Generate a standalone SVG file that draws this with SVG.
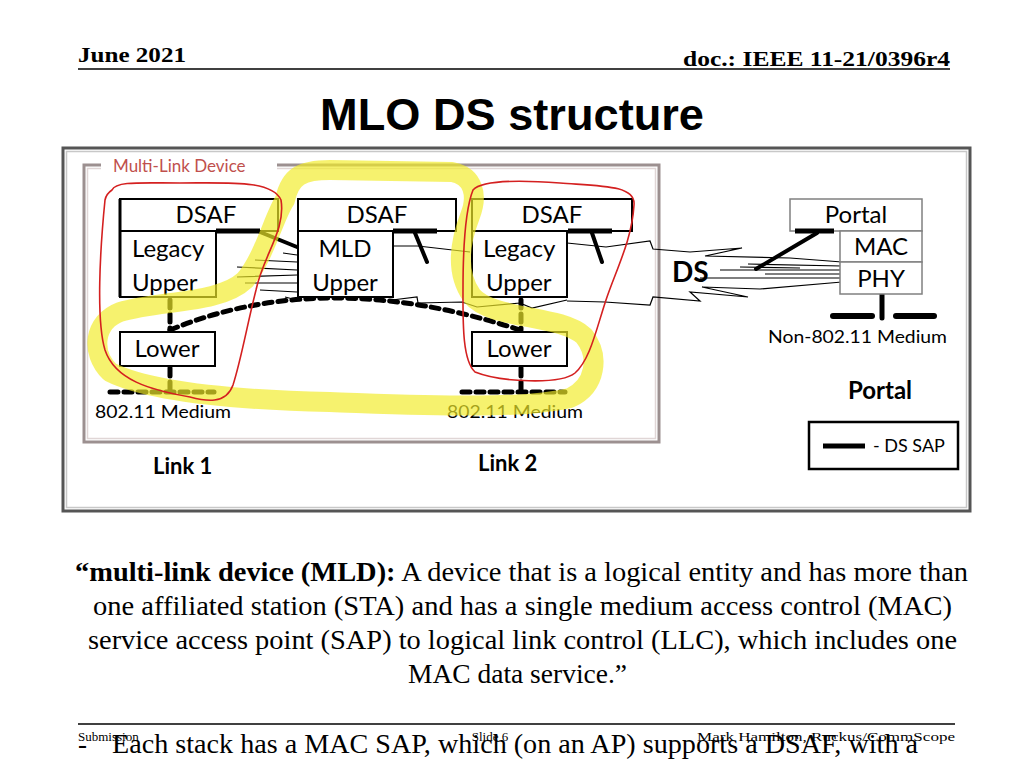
<svg xmlns="http://www.w3.org/2000/svg" width="1024" height="768" viewBox="0 0 1024 768">
<style>
.hdr{font-family:"Liberation Serif","Times New Roman",serif;font-weight:bold;font-size:22px;fill:#000}
.title{font-family:"Liberation Sans",Arial,sans-serif;font-weight:bold;font-size:44px;fill:#000}
.lbl{font-family:Lato,"Open Sans","Liberation Sans",sans-serif;font-size:24px;fill:#000}
.sm{font-family:Lato,"Open Sans","Liberation Sans",sans-serif;font-size:18px;fill:#000}
.bld{font-family:Lato,"Open Sans","Liberation Sans",sans-serif;font-weight:bold;fill:#000}
.body{font-family:"Liberation Serif","Times New Roman",serif;font-size:27px;fill:#000}
.foot{font-family:"Liberation Serif","Times New Roman",serif;font-size:13px;fill:#000}
.box{fill:#fff;stroke:#000;stroke-width:2}
.gbox{fill:#fff;stroke:#808080;stroke-width:1.5}
.sap{stroke:#000;stroke-width:5;fill:none}
.slant{stroke:#000;stroke-width:4;fill:none;stroke-linecap:round}
.thin{stroke:#000;stroke-width:1.2;fill:none;stroke-linejoin:miter}
.dash{stroke:#000;stroke-width:5;fill:none;stroke-dasharray:8 6;stroke-linecap:round}
.red{stroke:#d42020;stroke-width:1.6;fill:none}
</style>

<!-- header -->
<g id="header">
<text class="hdr" x="78" y="62" textLength="108" lengthAdjust="spacingAndGlyphs">June 2021</text>
<text class="hdr" x="683" y="66" textLength="267" lengthAdjust="spacingAndGlyphs">doc.: IEEE 11-21/0396r4</text>
<line x1="78" y1="69" x2="950" y2="69" stroke="#000" stroke-width="1.5"/>
<text class="title" x="320" y="130" textLength="384" lengthAdjust="spacingAndGlyphs">MLO DS structure</text>
</g>

<!-- outer frame -->
<g id="frame">
<rect x="63" y="148" width="907" height="363" fill="#fff" stroke="#555" stroke-width="3"/>
<rect x="66.5" y="151.5" width="900" height="356" fill="none" stroke="#c8c8c8" stroke-width="1.5"/>
</g>

<!-- multi-link device frame -->
<g id="mld-frame">
<rect x="84" y="165" width="575" height="277" fill="none" stroke="#9c9090" stroke-width="3"/>
<rect x="87.5" y="168.5" width="568" height="270" fill="none" stroke="#e0d6d6" stroke-width="1.5"/>
<rect x="101" y="156" width="176" height="20" fill="#fff"/>
<text x="113" y="172" font-family="Lato,'Open Sans','Liberation Sans',sans-serif" font-size="17" fill="#c0504d">Multi-Link Device</text>
</g>

<!-- connectors -->
<g id="connectors">
<!-- left bolt tip at MLD Upper -->
<path class="thin" d="M283,253 L297,255 M255,260 L297,262 M237,267 L297,270 M237,277 L297,275 M245,283 L297,283 M260,290 L297,292 M285,297 L297,300"/>
<!-- DS bolt -->
<path class="thin" d="M392,246 L418,246 L470,252"/>
<path class="thin" d="M392,300 L417,297 L418,303 L462,302 L477,307 L520,303 L532,308 L567,300"/>
<path class="thin" d="M567,243 L606,247 L650,241 L653,249 L690,252 L742,248 L705,256 L790,258 L842,262"/>
<path class="thin" d="M567,301 L605,302 L650,305 L653,297 L700,301 L690,292 L748,297 L702,287 L760,289 L842,282"/>
<path class="thin" d="M748,264 L842,266 M720,270 L842,270 M765,274 L842,274 M700,278 L842,278 M740,267 L800,268"/>
<!-- slanted DS SAP links -->
<line class="slant" x1="260" y1="232" x2="297" y2="247"/>
<line class="slant" x1="415" y1="233" x2="427" y2="262"/>
<line class="slant" x1="592" y1="233" x2="602" y2="262"/>
<line class="slant" x1="817" y1="233" x2="756" y2="269"/>
<!-- dashed links -->
<path class="dash" d="M170,300 L170,330"/>
<path class="dash" d="M170,368 L170,392"/>
<path class="dash" d="M521,300 L521,330"/>
<path class="dash" d="M521,368 L521,392"/>
<path class="dash" d="M170,330 Q325,266 520,330"/>
<path class="dash" d="M110,392 L214,392"/>
<path class="dash" d="M462,392 L565,392"/>
<!-- non-802.11 medium -->
<line x1="882" y1="294" x2="882" y2="318" stroke="#000" stroke-width="5" stroke-linecap="round"/>
<line x1="833" y1="316" x2="872" y2="316" stroke="#000" stroke-width="6" stroke-linecap="round"/>
<line x1="896" y1="316" x2="934" y2="316" stroke="#000" stroke-width="6" stroke-linecap="round"/>
</g>

<!-- stack 1 -->
<g id="stack1">
<rect class="box" x="120" y="199" width="158" height="32"/>
<rect class="box" x="120" y="231" width="96" height="66"/>
<line x1="120" y1="199" x2="120" y2="297" stroke="#000" stroke-width="3"/>
<line class="sap" x1="216" y1="231" x2="260" y2="231"/>
<text class="lbl" x="206" y="223" text-anchor="middle">DSAF</text>
<text class="lbl" x="132" y="257">Legacy</text>
<text class="lbl" x="132" y="291">Upper</text>
</g>

<!-- stack 2 -->
<g id="stack2">
<rect class="box" x="298" y="199" width="158" height="32"/>
<rect class="box" x="298" y="231" width="95" height="66"/>
<line class="sap" x1="393" y1="231" x2="437" y2="231"/>
<text class="lbl" x="377" y="223" text-anchor="middle">DSAF</text>
<text class="lbl" x="345" y="257" text-anchor="middle">MLD</text>
<text class="lbl" x="345" y="291" text-anchor="middle">Upper</text>
</g>

<!-- stack 3 -->
<g id="stack3">
<rect class="box" x="472" y="199" width="160" height="32"/>
<rect class="box" x="472" y="231" width="95" height="66"/>
<line class="sap" x1="568" y1="231" x2="612" y2="231"/>
<text class="lbl" x="552" y="223" text-anchor="middle">DSAF</text>
<text class="lbl" x="483" y="257">Legacy</text>
<text class="lbl" x="486" y="291">Upper</text>
</g>

<!-- lower boxes -->
<g id="lower1">
<rect class="box" x="120" y="332" width="95" height="34" stroke-width="1.5"/>
<text class="lbl" x="167" y="357" text-anchor="middle">Lower</text>
</g>
<g id="lower2">
<rect class="box" x="472" y="332" width="95" height="34" stroke-width="1.5"/>
<text class="lbl" x="519" y="357" text-anchor="middle">Lower</text>
</g>

<!-- medium labels -->
<g id="medium-labels">
<text class="sm" x="95" y="418" textLength="136" lengthAdjust="spacingAndGlyphs">802.11 Medium</text>
<text class="sm" x="447" y="418" textLength="136" lengthAdjust="spacingAndGlyphs">802.11 Medium</text>
<text class="bld" x="153" y="474" font-size="22">Link 1</text>
<text class="bld" x="478" y="471" font-size="22">Link 2</text>
<text class="bld" x="672" y="282" font-size="28">DS</text>
</g>

<!-- portal -->
<g id="portal">
<rect class="gbox" x="790" y="199" width="132" height="32"/>
<rect class="gbox" x="840" y="231" width="82" height="31"/>
<rect class="gbox" x="840" y="262" width="82" height="32"/>
<line class="sap" x1="795" y1="231" x2="834" y2="231"/>
<text class="lbl" x="856" y="223" text-anchor="middle">Portal</text>
<text class="lbl" x="881" y="255" text-anchor="middle">MAC</text>
<text class="lbl" x="881" y="287" text-anchor="middle">PHY</text>
<text class="sm" x="768" y="343" textLength="179" lengthAdjust="spacingAndGlyphs">Non-802.11 Medium</text>
<text class="bld" x="880" y="399" font-size="24" text-anchor="middle">Portal</text>
</g>

<!-- legend -->
<g id="legend">
<rect x="809" y="422" width="149" height="47" fill="#fff" stroke="#000" stroke-width="2.5"/>
<line x1="823" y1="446" x2="865" y2="446" stroke="#000" stroke-width="5"/>
<text class="sm" x="873" y="452">- DS SAP</text>
</g>

<!-- annotations: yellow highlight and red outlines -->
<g id="annotations">
<path d="M285,200 C290,176 302,170 330,170 L452,172 C474,176 478,196 470,216 C460,242 455,272 472,296 C492,320 560,314 584,336 C600,356 596,386 570,398 C520,410 420,405 330,402 C240,400 150,392 110,372 C90,352 94,322 120,312 C160,300 220,304 245,280 C265,256 274,216 285,200 Z" fill="none" stroke="#f2ec2a" stroke-opacity="0.68" stroke-width="20" stroke-linejoin="round"/>
<path class="red" d="M112,190 C116,181 140,183 180,183 C230,183 272,180 281,200 C286,230 263,256 256,290 C246,330 241,360 233,385 C226,405 205,401 190,397 C150,390 115,380 105,350 C96,320 100,250 105,200 C106,195 109,192 112,190 Z"/>
<path class="red" d="M473,190 C482,180 520,180 560,183 C600,186 636,185 634,205 C632,240 616,270 606,300 C596,330 590,360 575,373 C560,385 500,382 475,372 C462,360 463,320 463,290 C463,250 465,210 473,190 Z"/>
</g>

<!-- body text -->
<g id="definition">
<text class="body" x="75" y="581" textLength="893" lengthAdjust="spacingAndGlyphs"><tspan font-weight="bold">“multi-link device (MLD):</tspan> A device that is a logical entity and has more than</text>
<text class="body" x="93" y="615" textLength="859" lengthAdjust="spacingAndGlyphs">one affiliated station (STA) and has a single medium access control (MAC)</text>
<text class="body" x="88" y="649" textLength="869" lengthAdjust="spacingAndGlyphs">service access point (SAP) to logical link control (LLC), which includes one</text>
<text class="body" x="408" y="683" textLength="219" lengthAdjust="spacingAndGlyphs">MAC data service.”</text>
</g>

<!-- footer -->
<g id="footer">
<line x1="78" y1="724" x2="955" y2="724" stroke="#000" stroke-width="1.5"/>
<text class="foot" x="78" y="741">Submission</text>
<text class="foot" x="490" y="741" text-anchor="middle">Slide 6</text>
<text class="foot" x="955" y="741" text-anchor="end" textLength="258" lengthAdjust="spacingAndGlyphs">Mark Hamilton, Ruckus/CommScope</text>
<text class="body" x="78" y="753">-</text>
<text class="body" x="112" y="753" textLength="806" lengthAdjust="spacingAndGlyphs">Each stack has a MAC SAP, which (on an AP) supports a DSAF, with a</text>
<text class="body" x="112" y="786">DS SAP</text>
</g>
</svg>
